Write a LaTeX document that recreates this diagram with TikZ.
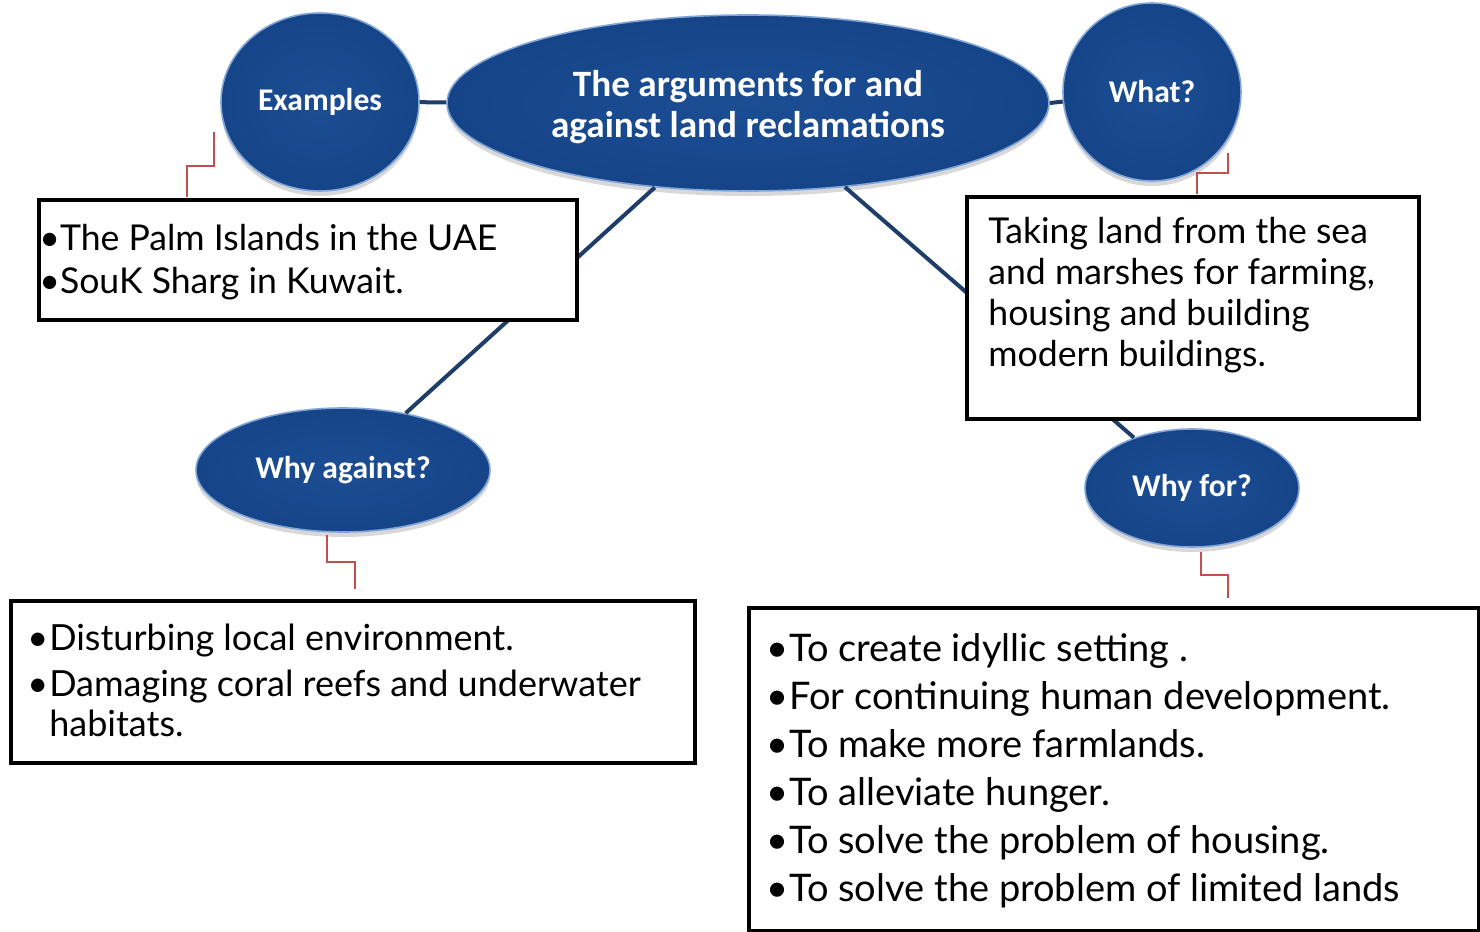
\documentclass[tikz,border=0pt]{standalone}
\usepackage{fontspec}
\setmainfont{Lato}
\newfontfamily\bubblefont{Carlito}
\usetikzlibrary{shapes.geometric,shadows}
\definecolor{bblue}{RGB}{22,68,136}
\definecolor{binner}{RGB}{28,78,148}
\definecolor{bedge}{RGB}{130,165,215}
\definecolor{lnk}{RGB}{30,62,105}
\definecolor{redl}{RGB}{192,80,77}
\begin{document}
\begin{tikzpicture}[x=0.5pt,y=-0.5pt,
  bubble/.style={ellipse, inner sep=0pt, inner color=binner, outer color=bblue,
    draw=bedge, line width=0.8pt, text=white,
    font=\bubblefont\bfseries\fontsize{15.8}{18}\selectfont,
    drop shadow={shadow xshift=0pt, shadow yshift=-2.5pt, opacity=0.3}},
  link/.style={draw=lnk, line width=2pt},
  tbox/.style={draw=black, line width=2pt, fill=white, rectangle, inner sep=0pt, anchor=north west},
  redline/.style={draw=redl, line width=1pt},
  btext/.style={anchor=base west, inner sep=0pt, font=\fontsize{18}{24}\selectfont}
]
\useasboundingbox[fill=white] (0,0) rectangle (1480,932);

% bubbles
\node[bubble, minimum width=301pt, minimum height=88pt,
  font=\bubblefont\bfseries\fontsize{18.6}{20.5}\selectfont] (central) at (748,103)
  {\begin{tabular}{@{}c@{}}\rule{0pt}{20.5pt}The arguments for and\\against land reclamations\end{tabular}};
\node[bubble, minimum width=99pt, minimum height=89pt] (examples) at (320,102) {Examples};
\node[bubble, minimum width=89pt, minimum height=89pt] (what) at (1152,92) {What?};
\node[bubble, minimum width=147pt, minimum height=62pt] (against) at (343,470) {Why against?};
\node[bubble, minimum width=107pt, minimum height=59pt] (for) at (1192,488) {Why for?};

% links
\draw[link] (central) -- (examples);
\draw[link] (central.east) -- (what);
\draw[link] (central) -- (against);
\draw[link] (central) -- (for);

% boxes
\node[tbox, minimum width=269pt, minimum height=60pt] (exbox) at (37,198) {};
\node[tbox, minimum width=226pt, minimum height=111pt] (whatbox) at (965,195) {};
\node[tbox, minimum width=342pt, minimum height=81pt] (agbox) at (9,599) {};
\node[tbox, minimum width=365pt, minimum height=161.5pt] (forbox) at (747,606) {};

% red elbow connectors
\coordinate (exa) at (214,132); \coordinate (exb) at (187,197);
\draw[redline] (exa) -- ++(0,34) -| (exb);
\coordinate (wa) at (1228,153); \coordinate (wb) at (1197,194);
\draw[redline] (wa) -- ++(0,20) -| (wb);
\coordinate (aa) at (327,535); \coordinate (ab) at (355,589);
\draw[redline] (aa) -- ++(0,27) -| (ab);
\coordinate (fa) at (1201,552); \coordinate (fb) at (1228,598);
\draw[redline] (fa) -- ++(0,23) -| (fb);

% texts
\node[btext, font=\fontsize{17.8}{21.5}\selectfont] (extext) at (39,250)
  {\begin{tabular}[t]{@{}l@{}}•The Palm Islands in the UAE\\•SouK Sharg in Kuwait.\end{tabular}};
\node[btext, font=\fontsize{17.8}{20.5}\selectfont] (whattext) at (988,243)
  {\begin{tabular}[t]{@{}l@{}}Taking land from the sea\\and marshes for farming,\\housing and building\\modern buildings.\end{tabular}};
\node[btext, font=\fontsize{18}{20}\selectfont] (agtext) at (27,650)
  {\begin{tabular}[t]{@{}l@{\hspace{0.5pt}}l@{}}•&Disturbing local environment.\\[3pt]
   •&Damaging coral reefs and underwater\\ &habitats.\end{tabular}};
\node[btext, font=\fontsize{19}{24}\selectfont] (fortext) at (766,661)
  {\begin{tabular}[t]{@{}l@{\hspace{0.5pt}}l@{}}•&To create idyllic setting .\\
   •&For continuing human development.\\
   •&To make more farmlands.\\
   •&To alleviate hunger.\\
   •&To solve the problem of housing.\\
   •&To solve the problem of limited lands\end{tabular}};
\end{tikzpicture}
\end{document}
